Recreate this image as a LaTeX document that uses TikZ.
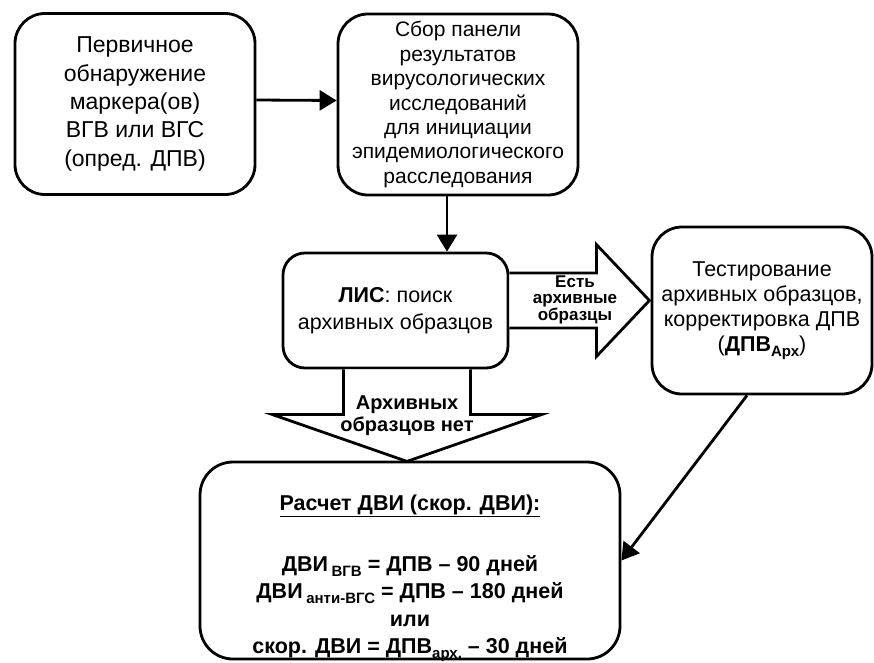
\documentclass[tikz,border=0pt]{standalone}
\usepackage{fontspec}
\setmainfont{Liberation Sans}
\usetikzlibrary{arrows.meta,calc}
\newcommand\subtxt[1]{\raisebox{-5pt}{\fontsize{15}{15}\selectfont #1}}

\begin{document}
\begin{tikzpicture}[x=1pt,y=-1pt,
  box/.style={draw, line width=2.8pt, rounded corners=30pt, align=center, inner sep=0pt,
    font=\fontsize{21.5}{25}\selectfont},
  arr/.style={line width=2.8pt, -{Triangle[length=17pt,width=20pt]}},
  blockarr/.style={draw, fill=white, line width=2.8pt, line join=miter},
  lbl/.style={align=center, font=\bfseries\fontsize{17}{15.5}\selectfont},
  calctxt/.style={align=center, font=\bfseries\fontsize{21.5}{27.5}\selectfont}]
\useasboundingbox (0,0) rectangle (874,662);

% Boxes
\node[box, minimum width=240pt, minimum height=181pt, font=\fontsize{23}{28.3}\selectfont]
  (b1) at (135,104) {Первичное\\обнаружение\\маркера(ов)\\ВГВ или ВГС\\(опред. ДПВ)};
\node[box, minimum width=240pt, minimum height=181pt, font=\fontsize{21}{24.4}\selectfont]
  (b2) at (458,104.5) {Сбор панели\\результатов\\вирусологических\\исследований\\для инициации\\эпидемиологического\\расследования};
\node[box, minimum width=225pt, minimum height=115pt, rounded corners=22pt, font=\fontsize{21.5}{27}\selectfont]
  (lis) at (395.5,310.5) {\textbf{ЛИС}: поиск\\архивных образцов};
\node[box, minimum width=220pt, minimum height=167pt]
  (test) at (762,310.5) {Тестирование\\архивных образцов,\\корректировка ДПВ\\(\textbf{ДПВ\subtxt{Арх}})};
\node[box, minimum width=420pt, minimum height=197pt, rounded corners=33pt]
  (calc) at (410,560.5) {};
\node[calctxt] (calctext) at ([yshift=-18pt]calc.center)
  {\underline{Расчет ДВИ (скор. ДВИ):}\\[33pt]
   ДВИ\,\subtxt{ВГВ} = ДПВ – 90 дней\\
   ДВИ\,\subtxt{анти-ВГС} = ДПВ – 180 дней\\
   или\\
   скор. ДВИ = ДПВ\subtxt{арх.} – 30 дней};

% Arrows
\draw[arr] ([yshift=4pt]b1.east) -- ([yshift=4pt]b2.west);
\draw[arr] ([xshift=-11pt]b2.south) -- ([xshift=-11pt]b2.south |- lis.north);
\draw[arr] ([xshift=-15pt]test.south) -- (calc.east);

% Block arrows
\draw[blockarr] ($(lis.east)+(0,-37.5)$) -- ++(87,0) -- ++(0,-28.5) -- ++(53,56)
  -- ++(-53,56) -- ++(0,-28.5) -- ++(-87,0);
\draw[blockarr] ($(lis.south)+(-52,0)$) -- ++(0,45) -- ++(-71.5,0) -- ++(135,47)
  -- ++(135,-47) -- ++(-71.5,0) -- ++(0,-45);

% Labels
\node[lbl] (yes) at (575,300) {Есть\\архивные\\образцы};
\node[lbl, font=\bfseries\fontsize{20}{22}\selectfont] (no) at (407,416) {Архивных\\образцов нет};
\end{tikzpicture}
\end{document}
